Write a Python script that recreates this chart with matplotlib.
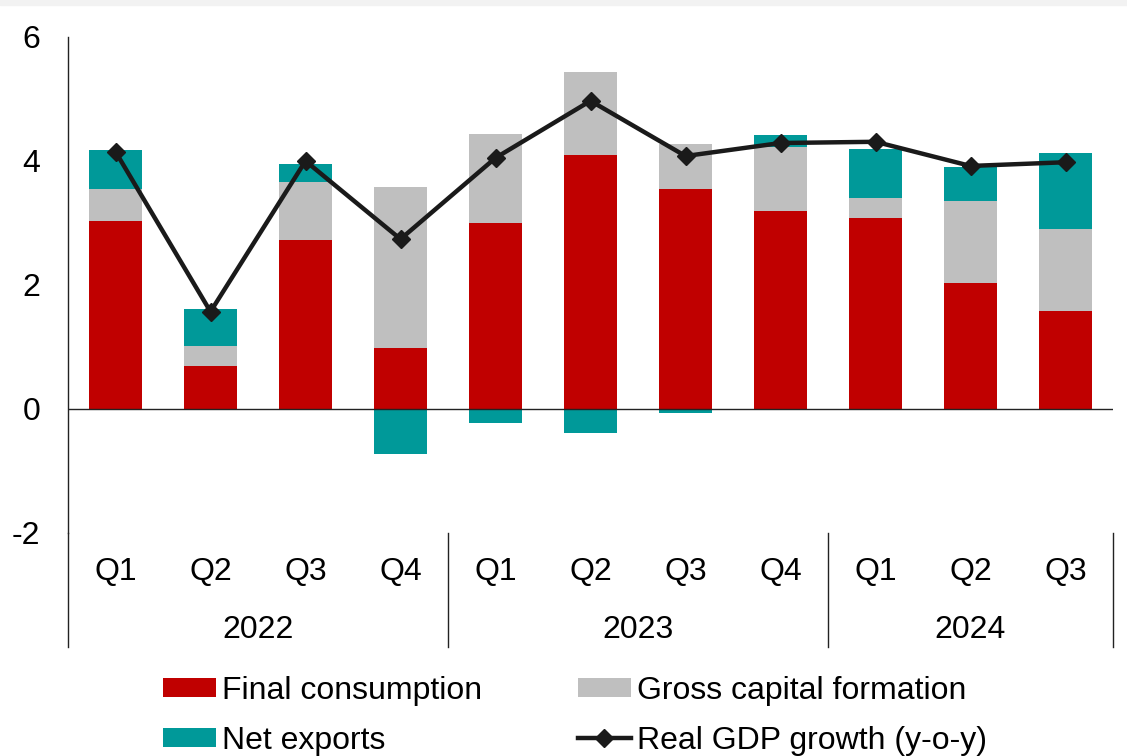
import numpy as np
import matplotlib
matplotlib.use("Agg")
import matplotlib.pyplot as plt
from matplotlib.patches import Rectangle
from matplotlib.lines import Line2D
import matplotlib.transforms as mtransforms

plt.rcParams['font.family'] = ['Liberation Sans', 'DejaVu Sans']

# Data (percentage point contributions)
quarters = ["Q1", "Q2", "Q3", "Q4", "Q1", "Q2", "Q3", "Q4", "Q1", "Q2", "Q3"]
years = ["2022", "2023", "2024"]
year_sizes = [4, 4, 3]
final_consumption = [3.03, 0.69, 2.73, 0.98, 3.00, 4.10, 3.55, 3.19, 3.08, 2.03, 1.58]
gross_capital = [0.52, 0.33, 0.93, 2.60, 1.44, 1.34, 0.72, 1.04, 0.32, 1.32, 1.32]
net_exports = [0.63, 0.59, 0.29, -0.72, -0.23, -0.38, -0.07, 0.19, 0.79, 0.55, 1.23]
gdp_growth = [4.15, 1.57, 4.00, 2.74, 4.05, 4.97, 4.08, 4.29, 4.31, 3.92, 3.98]

red = "#C00000"
grey = "#BFBFBF"
teal = "#009999"
fs = 23

fig = plt.figure(figsize=(11.27, 7.56), dpi=100)
W, H = 1127, 756
ax = fig.add_axes([68 / W, 1 - 533 / H, (1113 - 68) / W, (533 - 37) / H])

x = np.arange(len(quarters))
fc = np.array(final_consumption)
gc = np.array(gross_capital)
ne = np.array(net_exports)
ne_bottom = np.where(ne >= 0, fc + gc, 0)

width = 0.55
b_fc = ax.bar(x, fc, width, color=red, label="Final consumption")
b_gc = ax.bar(x, gc, width, bottom=fc, color=grey, label="Gross capital formation")
b_ne = ax.bar(x, ne, width, bottom=ne_bottom, color=teal, label="Net exports")
l_gdp, = ax.plot(x, gdp_growth, color="#1a1a1a", lw=3.2, marker="D", markersize=9,
                 label="Real GDP growth (y-o-y)")

ax.axhline(0, color="#222222", lw=1)
ax.set_xlim(-0.5, len(quarters) - 0.5)
ax.set_ylim(-2, 6)
ax.set_yticks([-2, 0, 2, 4, 6])
ax.set_yticklabels(["-2", "0", "2", "4", "6"])
ax.tick_params(axis="y", length=0, pad=20, labelsize=fs)
ax.set_xticks([])
for s in ["top", "right", "bottom"]:
    ax.spines[s].set_visible(False)
ax.spines["left"].set_color("#222222")
ax.spines["left"].set_linewidth(1)

# category labels (two levels) under the plot
trans = mtransforms.blended_transform_factory(ax.transData, ax.transAxes)
ah = 533 - 37
for i, q in enumerate(quarters):
    ax.text(i, -39 / ah, q, transform=trans, ha="center", va="center", fontsize=fs)
start = 0
bounds = [-0.5]
for yr, n in zip(years, year_sizes):
    ax.text(start + (n - 1) / 2, -97 / ah, yr, transform=trans, ha="center",
            va="center", fontsize=fs)
    start += n
    bounds.append(start - 0.5)
for b in bounds:
    ax.add_line(Line2D([b, b], [0, -114 / ah], transform=trans, color="#222222",
                       lw=1, clip_on=False))

# thin grey band at the top
fig.patches.append(Rectangle((0, 1 - 5 / H), 1, 5 / H, transform=fig.transFigure,
                             color="#f2f2f2", zorder=0))

# legend filled column-wise: col 1 = FC, NE ; col 2 = GCF, GDP
fig.legend([b_fc, b_ne, b_gc, l_gdp],
           ["Final consumption", "Net exports", "Gross capital formation",
            "Real GDP growth (y-o-y)"],
           ncol=2, loc="upper left",
           bbox_to_anchor=(163 / W, 1 - 676 / H), frameon=False, fontsize=fs,
           borderpad=0, borderaxespad=0, handlelength=1.66, handleheight=0.55,
           handletextpad=0.2, columnspacing=2.98, labelspacing=0.62)

fig.savefig("out.png", dpi=100)
